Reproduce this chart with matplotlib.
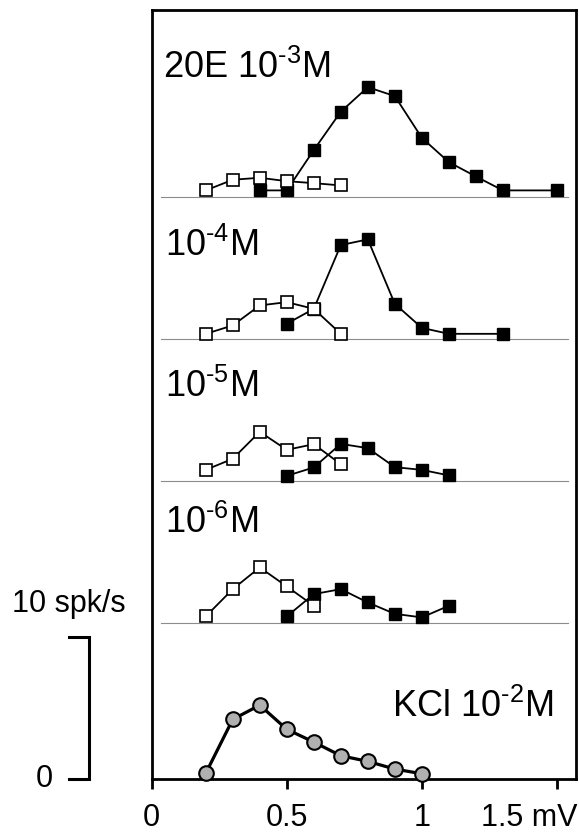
import matplotlib
matplotlib.use("Agg")
import matplotlib.pyplot as plt
import matplotlib.transforms as mtransforms

plt.rcParams['font.family'] = ['Liberation Sans', 'DejaVu Sans']
plt.rcParams['mathtext.fontset'] = 'custom'
plt.rcParams['mathtext.rm'] = 'Liberation Sans'
plt.rcParams['mathtext.sf'] = 'Liberation Sans'

# response (spk/s) vs stimulus amplitude (mV), one row per 20E concentration
labels = [r'20E 10$^{\text{-3}}$M', r'10$^{\text{-4}}$M', r'10$^{\text{-5}}$M', r'10$^{\text{-6}}$M']
offsets = [41, 31, 21, 11]

open_x = [
    [0.2, 0.3, 0.4, 0.5, 0.6, 0.7],
    [0.2, 0.3, 0.4, 0.5, 0.6, 0.7],
    [0.2, 0.3, 0.4, 0.5, 0.6, 0.7],
    [0.2, 0.3, 0.4, 0.5, 0.6],
]
open_y = [
    [0.45, 1.2, 1.34, 1.1, 0.96, 0.8],
    [0.35, 0.94, 2.35, 2.58, 2.11, 0.35],
    [0.77, 1.55, 3.45, 2.18, 2.58, 1.17],
    [0.45, 2.37, 3.9, 2.56, 1.2],
]
filled_x = [
    [0.4, 0.5, 0.6, 0.7, 0.8, 0.9, 1.0, 1.1, 1.2, 1.3, 1.5],
    [0.5, 0.6, 0.7, 0.8, 0.9, 1.0, 1.1, 1.3],
    [0.5, 0.6, 0.7, 0.8, 0.9, 1.0, 1.1],
    [0.5, 0.6, 0.7, 0.8, 0.9, 1.0, 1.1],
]
filled_y = [
    [0.45, 0.45, 3.29, 5.99, 7.72, 7.09, 4.15, 2.44, 1.43, 0.45, 0.45],
    [1.06, 2.11, 6.6, 7.0, 2.46, 0.77, 0.35, 0.35],
    [0.35, 0.94, 2.6, 2.3, 0.96, 0.77, 0.38],
    [0.45, 2.02, 2.37, 1.43, 0.63, 0.38, 1.2],
]

kcl_x = [0.2, 0.3, 0.4, 0.5, 0.6, 0.7, 0.8, 0.9, 1.0]
kcl_y = [0.4, 4.2, 5.2, 3.5, 2.6, 1.64, 1.24, 0.7, 0.37]

xticks = [0, 0.5, 1, 1.5]
xticklabels = ['0', '0.5', '1', '1.5 mV']

# where the row labels sit (baseline, in axis units)
label_pos = [49.4, 36.8, 26.9, 17.3]

fig = plt.figure(figsize=(5.79, 8.38), dpi=100)
ax = fig.add_axes([0.262, 0.0704, 0.733, 0.9176])

for i in range(4):
    off = offsets[i]
    ax.plot([0.035, 1.54], [off, off], color='#8c8c8c', lw=0.8, zorder=1)
    ax.plot(filled_x[i], [v + off for v in filled_y[i]], '-s', color='black',
            mfc='black', mec='black', ms=8.5, lw=1.3, zorder=2)
    ax.plot(open_x[i], [v + off for v in open_y[i]], '-s', color='black',
            mfc='white', mec='black', ms=8.5, mew=1.2, lw=1.3, zorder=3)
    ax.text(0.042 if i == 0 else 0.048, label_pos[i], labels[i], fontsize=26,
            ha='left', va='baseline')

ax.plot(kcl_x, kcl_y, '-o', color='black', mfc='#b0b0b0', mec='black',
        ms=10.5, mew=1.5, lw=2.3, zorder=3, clip_on=False)
ax.text(0.89, 4.4, r'KCl 10$^{\text{-2}}$M', fontsize=26, ha='left', va='baseline')

ax.set_xlim(0, 1.571)
ax.set_ylim(0, 54.15)
ax.set_yticks([])
ax.set_xticks(xticks)
ax.set_xticklabels(xticklabels, fontsize=22)
ax.tick_params(axis='x', direction='out', length=7, width=2, pad=10)
for s in ax.spines.values():
    s.set_linewidth(2)

# shift "1.5 mV" so it ends at the figure edge
lab = ax.get_xticklabels()[-1]
lab.set_ha('right')
lab.set_transform(lab.get_transform() + mtransforms.ScaledTranslation(0.21, 0, fig.dpi_scale_trans))

# scale bar 0-10 spk/s
ax.plot([-0.306, -0.232, -0.232, -0.306], [0, 0, 10, 10], color='black', lw=2.2,
        clip_on=False, solid_joinstyle='miter')
ax.text(-0.308, 12.3, '10 spk/s', fontsize=22, ha='center', va='center')
ax.text(-0.399, 0, '0', fontsize=22, ha='center', va='center')

fig.savefig('out.png', dpi=100)
